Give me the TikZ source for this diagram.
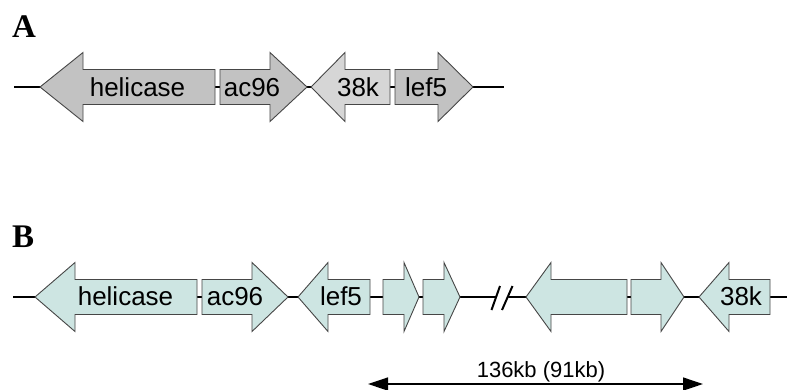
\documentclass[tikz,border=0pt]{standalone}
\usepackage{fontspec}
\setmainfont{Liberation Sans}
\newfontfamily\panelfont{Liberation Serif}
\usetikzlibrary{arrows.meta}
\definecolor{geneA}{RGB}{194,194,194}
\definecolor{geneAl}{RGB}{214,214,214}
\definecolor{geneB}{RGB}{205,229,226}
\definecolor{outl}{RGB}{70,70,70}
\newcommand\GeneR[5]{% style, left, headstart, tip, y
  \draw[#1] (#2,#5-17.5) -- (#3,#5-17.5) -- (#3,#5-34.5) -- (#4,#5) -- (#3,#5+34.5) -- (#3,#5+17.5) -- (#2,#5+17.5) -- cycle;}
\newcommand\GeneL[5]{% style, right, headback, tip, y
  \draw[#1] (#2,#5-17.5) -- (#3,#5-17.5) -- (#3,#5-34.5) -- (#4,#5) -- (#3,#5+34.5) -- (#3,#5+17.5) -- (#2,#5+17.5) -- cycle;}
\begin{document}
\begin{tikzpicture}[x=1pt,y=-1pt,
  backbone/.style={line width=2pt,black},
  gA/.style={draw=outl,line width=0.9pt,fill=geneA,line join=miter},
  gAl/.style={draw=outl,line width=0.9pt,fill=geneAl,line join=miter},
  gB/.style={draw=outl,line width=0.9pt,fill=geneB,line join=miter},
  lbl/.style={font=\fontsize{26}{28}\selectfont,anchor=base,inner sep=0pt},
  panel/.style={font=\panelfont\bfseries\fontsize{33}{35}\selectfont,anchor=base west,inner sep=0pt},
  dim/.style={line width=1.3pt,{Triangle[length=20pt,width=13pt]}-{Triangle[length=20pt,width=13pt]}}]
\useasboundingbox (0,0) rectangle (787,389);
\fill[white] (0,0) rectangle (787,389);
% ---------- panel A ----------
\node[panel] (pA) at (12,37) {A};
\coordinate (a0) at (14,87);
\coordinate (a1) at (504,87);
\draw[backbone] (a0) -- (a1);
\GeneL{gA}{215}{83}{40}{87}
\GeneR{gA}{220}{270}{307}{87}
\GeneL{gAl}{390}{345}{311}{87}
\GeneR{gA}{395}{438}{473}{87}
\node[lbl] (hA) at (137.5,96) {helicase};
\node[lbl] (acA) at (252,96) {ac96};
\node[lbl] (kA) at (358,96) {38k};
\node[lbl] (lA) at (426,96) {lef5};
% ---------- panel B ----------
\node[panel] (pB) at (12,247) {B};
\coordinate (b0) at (13,297);
\coordinate (b1) at (787,297);
\draw[backbone] (b0) -- (b1);
\GeneL{gB}{197}{75}{35}{297}
\GeneR{gB}{202}{252}{288}{297}
\GeneL{gB}{370}{328}{298}{297}
\GeneR{gB}{383}{404}{419}{297}
\GeneR{gB}{423}{444}{460}{297}
\GeneL{gB}{627}{551}{526}{297}
\GeneR{gB}{631}{661}{684}{297}
\GeneL{gB}{770}{729}{699}{297}
% break mark
\fill[white] (492.5,310) -- (500.5,286) -- (512.5,286) -- (503.5,310) -- cycle;
\draw[line width=2pt] (491.5,310) -- (500,286);
\draw[line width=2pt] (502,310) -- (512.5,286);
\node[lbl] (hB) at (125.5,305) {helicase};
\node[lbl] (acB) at (235,305) {ac96};
\node[lbl] (lB) at (341,305) {lef5};
\node[lbl] (kB) at (741,305) {38k};
% distance
\coordinate (dl) at (368,384);
\coordinate (dr) at (703,384);
\draw[dim] (dl) -- (dr);
\node[font=\fontsize{22}{24}\selectfont,anchor=base,inner sep=0pt] (dist) at (541,377) {136kb (91kb)};
\end{tikzpicture}
\end{document}
